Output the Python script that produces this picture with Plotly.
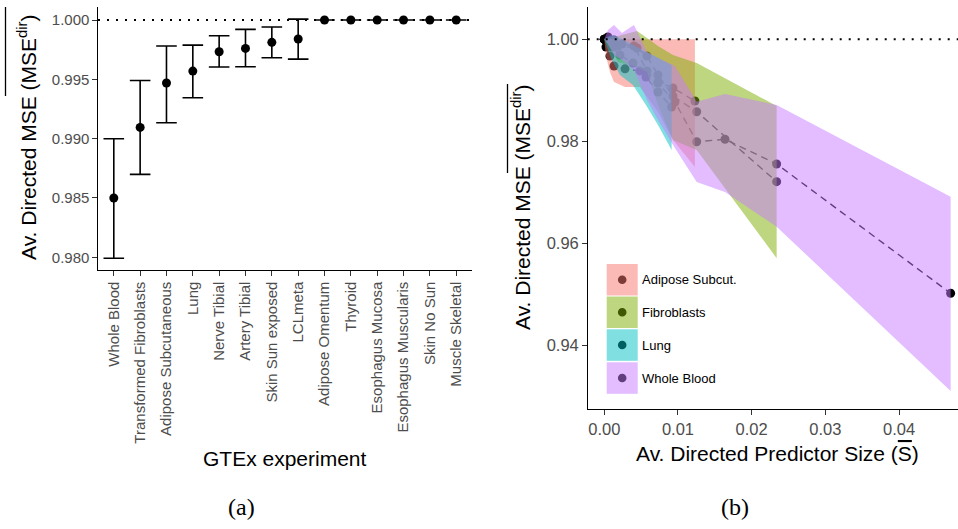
import plotly.graph_objects as go

W, H = 958, 529

# ---------------- Panel (a) data ----------------
experiments = ["Whole Blood", "Transformed Fibroblasts", "Adipose Subcutaneous", "Lung",
               "Nerve Tibial", "Artery Tibial", "Skin Sun exposed", "LCLmeta",
               "Adipose Omentum", "Thyroid", "Esophagus Mucosa", "Esophagus Muscularis",
               "Skin No Sun", "Muscle Skeletal"]
mse_mean = [0.98500, 0.99095, 0.99469, 0.99570, 0.99733, 0.99761, 0.99812, 0.99840,
            1.0, 1.0, 1.0, 1.0, 1.0, 1.0]
mse_upper = [0.99000, 0.99491, 0.99781, 0.99789, 0.99868, 0.99921, 0.99941, 1.00008,
             1.0, 1.0, 1.0, 1.0, 1.0, 1.0]
mse_lower = [0.97992, 0.98699, 0.99134, 0.99345, 0.99604, 0.99606, 0.99682, 0.99671,
             1.0, 1.0, 1.0, 1.0, 1.0, 1.0]
a_yticks = [0.980, 0.985, 0.990, 0.995, 1.000]

# ---------------- Panel (b) data ----------------
tissues = ["Adipose Subcut.", "Fibroblasts", "Lung", "Whole Blood"]
tissue_colors = ["#F8766D", "#7CAE00", "#00BFC4", "#C77CFF"]

adipose_size = [0.0, 0.00023, 0.00077, 0.00132, 0.00281, 0.00484, 0.00729, 0.00932, 0.01230]
adipose_mse = [1.0, 0.99849, 0.99673, 0.99476, 0.99420, 0.99380, 0.99163, 0.99045, 0.98790]
adipose_lo = [1.0, 0.99673, 0.99359, 0.99163, 0.99065, 0.99065, 0.98575, 0.98025, 0.97496]
adipose_hi = [1.0, 1.0, 1.0, 1.0, 1.0, 1.0, 1.0, 1.0, 1.0]

fibro_size = [0.0, 0.00077, 0.00186, 0.00444, 0.00579, 0.00729, 0.00932, 0.01254, 0.02339]
fibro_mse = [1.0, 0.99947, 0.99869, 0.99829, 0.99673, 0.99300, 0.98888, 0.98580, 0.97208]
fibro_lo = [1.0, 0.99829, 0.99555, 0.99457, 0.99359, 0.98712, 0.98025, 0.97829, 0.95708]
fibro_hi = [1.0, 1.00045, 1.00065, 1.00163, 1.00025, 0.99869, 0.99692, 0.99535, 0.98692]

lung_size = [0.0, 0.00037, 0.00104, 0.00213, 0.00389, 0.00566, 0.00729, 0.00914]
lung_mse = [1.0, 0.99947, 0.99849, 0.99692, 0.99535, 0.99261, 0.98967, 0.98673]
lung_lo = [1.0, 0.99849, 0.99594, 0.99300, 0.99104, 0.98712, 0.98320, 0.97829]
lung_hi = [1.0, 1.00045, 1.00084, 1.00025, 0.99888, 0.99751, 0.99633, 0.99496]

blood_size = [0.0, 0.0005, 0.00132, 0.0024, 0.00403, 0.00579, 0.00729, 0.00959,
              0.01254, 0.01638, 0.02339, 0.0470]
blood_mse = [1.0, 1.00045, 0.99986, 0.99908, 0.99869, 0.99378, 0.99143, 0.98771,
             0.97992, 0.98039, 0.97555, 0.9502]
blood_lo = [1.0, 0.99908, 0.99692, 0.99594, 0.99398, 0.98810, 0.98418, 0.97869,
            0.97202, 0.97006, 0.96325, 0.93104]
blood_hi = [1.0, 1.00182, 1.00280, 1.00124, 1.00280, 0.99751, 0.99633, 0.99476,
            0.98776, 0.98927, 0.98712, 0.96914]

b_xticks = [0.00, 0.01, 0.02, 0.03, 0.04]
b_yticks = [0.94, 0.96, 0.98, 1.00]

series = [
    (adipose_size, adipose_mse, adipose_lo, adipose_hi),
    (fibro_size, fibro_mse, fibro_lo, fibro_hi),
    (lung_size, lung_mse, lung_lo, lung_hi),
    (blood_size, blood_mse, blood_lo, blood_hi),
]


def hex_rgba(h, a):
    h = h.lstrip("#")
    return "rgba(%d,%d,%d,%s)" % (int(h[0:2], 16), int(h[2:4], 16), int(h[4:6], 16), a)


def hex_dark(h):
    # black point seen through a 50% alpha ribbon
    h = h.lstrip("#")
    return "rgb(%d,%d,%d)" % tuple(int(int(h[i:i + 2], 16) * 0.5) for i in (0, 2, 4))


def px(p):
    return p / W


def py(p):
    return 1 - p / H


FONT = "Liberation Sans, Arial, Helvetica, sans-serif"
GREY = "#4D4D4D"

fig = go.Figure()

# ---- panel (a) ----
fig.add_trace(go.Scatter(
    x=experiments, y=mse_mean, mode="markers",
    marker=dict(color="black", size=9),
    error_y=dict(type="data", symmetric=False,
                 array=[u - m for u, m in zip(mse_upper, mse_mean)],
                 arrayminus=[m - l for m, l in zip(mse_mean, mse_lower)],
                 color="black", thickness=1.6, width=10.3),
    xaxis="x", yaxis="y", showlegend=False, hoverinfo="skip"))

# ---- panel (b): points + dashed lines first, ribbons on top ----
for (xs, ys, lo, hi) in series:
    fig.add_trace(go.Scatter(
        x=xs, y=ys, mode="lines+markers",
        line=dict(color="black", width=1.4, dash="7px,5px"),
        marker=dict(color="black", size=9),
        xaxis="x2", yaxis="y2", showlegend=False, hoverinfo="skip"))

for (xs, ys, lo, hi), name, col in zip(series, tissues, tissue_colors):
    fig.add_trace(go.Scatter(
        x=list(xs) + list(xs[::-1]), y=list(hi) + list(lo[::-1]),
        mode="lines", fill="toself", fillcolor=hex_rgba(col, 0.5),
        line=dict(width=0), name=name,
        xaxis="x2", yaxis="y2", showlegend=False, hoverinfo="skip"))

shapes = []
# dotted reference lines at 1
shapes.append(dict(type="line", xref="x domain", yref="y", x0=0, x1=1, y0=1, y1=1,
                   line=dict(color="black", width=2, dash="2px,7px"), layer="below"))
shapes.append(dict(type="line", xref="x2 domain", yref="y2", x0=0, x1=1, y0=1, y1=1,
                   line=dict(color="black", width=2, dash="2px,7px"), layer="above"))

# overlines over "(MSE^dir)" in the two y titles
for ox, oy0, oy1 in [(5.5, 7, 96), (507.5, 84, 173)]:
    shapes.append(dict(type="line", xref="paper", yref="paper",
                       x0=px(ox), x1=px(ox), y0=py(oy0), y1=py(oy1),
                       line=dict(color="black", width=1.3)))

# custom legend for panel (b)
leg_tops = [264, 296.5, 329.3, 362.3]
annotations = []
for top, name, col in zip(leg_tops, tissues, tissue_colors):
    shapes.append(dict(type="rect", xref="paper", yref="paper",
                       x0=px(606.7), x1=px(637.7), y0=py(top + 31.5), y1=py(top),
                       fillcolor=hex_rgba(col, 0.5), line=dict(width=0), layer="above"))
    cx, cy = 622.2, top + 15.75
    shapes.append(dict(type="circle", xref="paper", yref="paper",
                       x0=px(cx - 4.3), x1=px(cx + 4.3), y0=py(cy + 4.3), y1=py(cy - 4.3),
                       fillcolor=hex_dark(col), line=dict(width=0), layer="above"))
    annotations.append(dict(text=name, xref="paper", yref="paper", x=px(640), y=py(cy),
                            xanchor="left", yanchor="middle", showarrow=False,
                            font=dict(family=FONT, size=13, color="black")))

# titles
title_font = dict(family=FONT, size=21, color="black")
ytitle = "Av. Directed MSE (MSE<sup>dir</sup>)"
annotations += [
    dict(text=ytitle, xref="paper", yref="paper", x=px(27), y=py(138), textangle=-90,
         xanchor="center", yanchor="middle", showarrow=False, font=title_font),
    dict(text=ytitle, xref="paper", yref="paper", x=px(521), y=py(208), textangle=-90,
         xanchor="center", yanchor="middle", showarrow=False, font=title_font),
    dict(text="GTEx experiment", xref="paper", yref="paper", x=px(285), y=py(458),
         xanchor="center", yanchor="middle", showarrow=False, font=title_font),
    dict(text='Av. Directed Predictor Size (<span style="text-decoration:overline">S</span>)',
         xref="paper", yref="paper", x=px(777.5), y=py(453),
         xanchor="center", yanchor="middle", showarrow=False, font=title_font),
    dict(text="(a)", xref="paper", yref="paper", x=px(242), y=py(507),
         xanchor="center", yanchor="middle", showarrow=False,
         font=dict(family="Liberation Serif, DejaVu Serif, serif", size=24, color="black")),
    dict(text="(b)", xref="paper", yref="paper", x=px(735), y=py(507),
         xanchor="center", yanchor="middle", showarrow=False,
         font=dict(family="Liberation Serif, DejaVu Serif, serif", size=24, color="black")),
]

axis_common = dict(showline=True, linecolor="black", linewidth=1.3, showgrid=False,
                   zeroline=False, ticks="outside", ticklen=4.5, tickwidth=1.1,
                   tickcolor="#333333")

fig.update_layout(
    width=W, height=H, margin=dict(l=0, r=0, t=0, b=0),
    paper_bgcolor="white", plot_bgcolor="white",
    font=dict(family=FONT),
    showlegend=False,
    xaxis=dict(domain=[px(98), px(472)], range=[-0.6, 13.6], type="category",
               tickangle=-90, tickfont=dict(size=15, color=GREY), anchor="y",
               **axis_common),
    yaxis=dict(domain=[py(270), py(7)], range=[0.97893, 1.0011], tickvals=a_yticks,
               tickformat=".3f", tickfont=dict(size=15, color=GREY), anchor="x",
               **axis_common),
    xaxis2=dict(domain=[px(587.7), 1.0], range=[-0.00225, 0.0480], tickvals=b_xticks,
                tickformat=".2f", tickfont=dict(size=16.5, color=GREY), anchor="y2",
                **axis_common),
    yaxis2=dict(domain=[py(409.3), py(7)], range=[0.92745, 1.00633], tickvals=b_yticks,
                tickformat=".2f", tickfont=dict(size=16.5, color=GREY), anchor="x2",
                **axis_common),
    shapes=shapes,
    annotations=annotations,
)

fig.write_html("out.html")
